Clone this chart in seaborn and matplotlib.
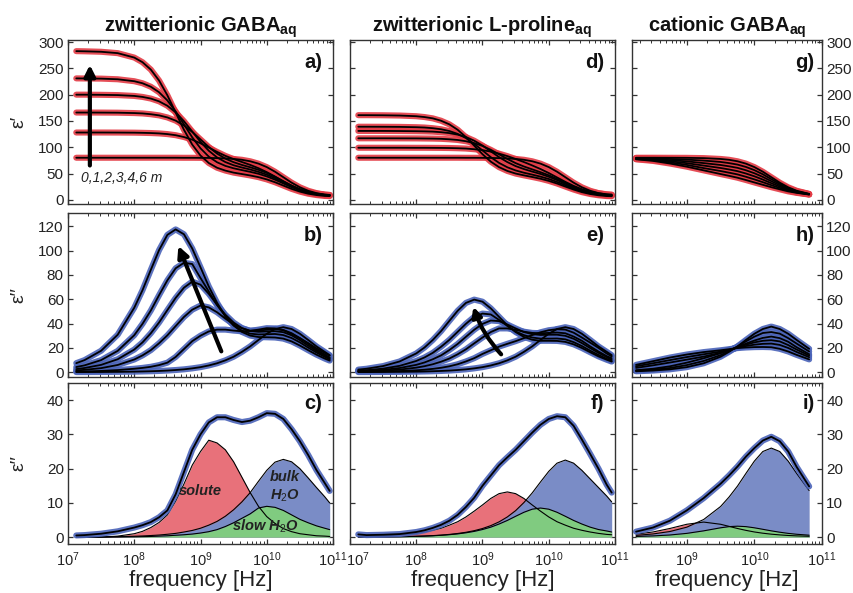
import numpy as np
import pandas as pd
import seaborn as sns
import matplotlib.pyplot as plt
from matplotlib.ticker import LogLocator, NullFormatter
from matplotlib.transforms import ScaledTranslation

sns.set_theme(style="ticks")
plt.rcParams['font.family'] = ['Liberation Sans', 'DejaVu Sans']
plt.rcParams['mathtext.fontset'] = 'custom'
plt.rcParams['mathtext.rm'] = 'Liberation Sans'
plt.rcParams['mathtext.it'] = 'Liberation Sans:italic'
plt.rcParams['mathtext.bf'] = 'Liberation Sans:bold'

# frequency grids, log10(f / Hz)
G = [7.125, 7.25, 7.5, 7.75, 8.0, 8.125, 8.25, 8.375, 8.5, 8.625, 8.75, 8.875, 9.0, 9.125,
     9.25, 9.375, 9.5, 9.625, 9.75, 9.875, 10.0, 10.125, 10.25, 10.375, 10.5, 10.625, 10.75,
     10.875, 10.95]
R_LOGF = [8.25, 8.5, 8.75, 9.0, 9.25, 9.5, 9.625, 9.75, 9.875, 10.0, 10.125, 10.25, 10.375,
          10.5, 10.625, 10.81]

# zwitterionic GABA, eps' (a)   0,1,2,3,4,6 m
gaba_re_0 = [80, 80, 80, 80, 80, 80, 80, 80, 80, 80, 79.9, 79.9, 79.8, 79.6, 79.3, 78.7, 77.7, 76.1,
             73.3, 68.8, 62.2, 53.4, 43.0, 32.6, 23.8, 17.2, 12.7, 9.9, 9.0]
gaba_re_1 = [128, 128, 128, 127.9, 127.7, 127.4, 127.0, 126.3, 125.0, 122.9, 119.4, 114.4, 107.5, 99.4,
             91.1, 83.6, 77.4, 71.9, 66.4, 60.1, 52.7, 44.2, 35.1, 26.8, 20.0, 15.1, 11.9, 9.8, 9.3]
gaba_re_2 = [166, 166, 165.9, 165.7, 165.0, 164.3, 162.8, 160.6, 156.7, 150.6, 141.4, 129.2, 114.8, 100.4,
             87.9, 78.4, 71.5, 66.3, 61.9, 57.0, 51.1, 43.7, 35.3, 27.1, 20.0, 14.8, 11.3, 9.1, 8.5]
gaba_re_3 = [200, 200, 199.7, 199.2, 197.6, 195.7, 192.6, 187.3, 178.9, 166.4, 149.5, 129.9, 110.2, 93.3,
             80.6, 71.8, 65.7, 61.4, 57.6, 53.2, 47.8, 41.0, 33.3, 25.5, 19.1, 14.2, 10.9, 8.9, 8.3]
gaba_re_4 = [231, 230.8, 230.5, 229.3, 225.6, 221.7, 215.1, 204.6, 189.0, 168.0, 143.5, 118.9, 97.9, 82.1,
             71.4, 64.5, 59.9, 56.5, 53.2, 49.5, 44.5, 38.3, 31.2, 24.0, 18.0, 13.6, 10.6, 8.7, 8.1]
gaba_re_6 = [282.8, 282.5, 281.6, 279.0, 270.6, 261.7, 247.7, 226.8, 198.8, 166.0, 133.2, 105.1, 84.2, 70.0,
             61.0, 55.6, 51.7, 49.0, 46.3, 43.1, 38.8, 33.4, 27.1, 20.8, 15.6, 11.6, 9.0, 7.3, 7.0]

# zwitterionic GABA, eps'' (b)
gaba_im_0 = [0.06, 0.07, 0.13, 0.24, 0.41, 0.56, 0.74, 0.98, 1.3, 1.75, 2.3, 3.1, 4.1, 5.5, 7.3, 9.7,
             12.7, 16.7, 21.2, 26.5, 31.6, 35.5, 37.0, 35.5, 31.6, 26.5, 21.2, 16.7, 14.0]
gaba_im_1 = [0.5, 0.6, 1.0, 1.7, 2.8, 3.5, 4.4, 5.8, 7.8, 12.5, 19.0, 25.5, 30.0, 33.5, 35.0, 35.0,
             34.2, 33.6, 34.0, 35.0, 36.2, 36.0, 34.5, 31.5, 28.0, 24.0, 19.6, 15.8, 13.5]
gaba_im_2 = [1.4, 1.9, 3.3, 5.9, 10.4, 13.8, 18.1, 23.8, 30.3, 37.9, 45.4, 51.4, 54.8, 53.3, 49.3, 44.1,
             39.3, 36.1, 34.1, 34.2, 34.9, 35.4, 34.7, 32.1, 28.0, 23.2, 18.4, 14.5, 12.0]
gaba_im_3 = [2.5, 3.4, 6.0, 10.6, 18.6, 24.5, 32.0, 40.9, 51.1, 61.1, 69.5, 74.5, 72.0, 64.5, 55.5, 47.3,
             40.8, 36.3, 33.8, 33.2, 33.5, 33.7, 32.9, 30.3, 26.4, 21.8, 17.4, 13.6, 11.3]
gaba_im_4 = [4.2, 5.6, 9.9, 17.5, 30.4, 39.8, 50.7, 63.4, 75.6, 85.5, 90.0, 89.0, 77.5, 66.4, 55.2, 46.0,
             38.7, 34.2, 31.7, 31.0, 31.2, 31.4, 30.5, 28.1, 24.5, 20.2, 16.2, 12.6, 10.5]
gaba_im_6 = [7.4, 9.9, 17.6, 30.8, 53.0, 67.5, 84.2, 100.5, 113.0, 117.5, 113.5, 101.8, 86.3, 70.5, 57.1,
             46.0, 38.3, 33.1, 30.1, 28.9, 28.7, 28.5, 27.6, 25.3, 21.9, 18.1, 14.4, 11.2, 9.5]

# GABA 1 m split into solute / bulk water / slow water (c)
c_total = gaba_im_1
c_solute = [0.0, 0.0, 0.0, 0.3, 1.0, 1.7, 2.8, 4.3, 6.5, 10.5, 15.5, 21.0, 25.0, 28.3, 27.5, 25.5,
            22.0, 17.5, 13.0, 9.0, 6.0, 4.0, 2.5, 1.6, 1.0, 0.7, 0.4, 0.3, 0.2]
c_slow = [0.0, 0.0, 0.0, 0.05, 0.1, 0.15, 0.2, 0.3, 0.4, 0.55, 0.7, 0.9, 1.2, 1.6, 2.2, 3.1,
          4.2, 5.5, 6.8, 8.5, 9.0, 8.7, 7.8, 6.5, 5.2, 4.2, 3.3, 2.6, 2.2]
c_bulk = [0.04, 0.05, 0.08, 0.15, 0.26, 0.35, 0.47, 0.62, 0.84, 1.1, 1.5, 1.95, 2.6, 3.5, 4.6, 6.1,
          8.0, 10.3, 13.0, 16.3, 19.5, 21.9, 22.7, 22.0, 20.0, 17.3, 14.5, 11.8, 10.0]

# zwitterionic L-proline, eps' (d)
pro_re_1 = [99, 99, 99, 99, 98.9, 98.9, 98.8, 98.7, 98.5, 98.1, 97.5, 96.2, 94.5, 91.6, 87.8, 83.1,
            77.6, 71.8, 65.4, 58.6, 50.9, 42.5, 34.2, 26.5, 20.2, 15.6, 12.5, 10.6, 10.0]
pro_re_2 = [117, 117, 117, 116.9, 116.8, 116.6, 116.4, 116.0, 115.1, 113.8, 111.4, 107.8, 102.4, 95.1,
            86.5, 77.7, 69.8, 63.4, 57.9, 52.5, 46.7, 39.7, 32.1, 24.7, 18.4, 13.8, 10.6, 8.7, 8.3]
pro_re_3 = [131, 131, 131, 130.8, 130.5, 130.2, 129.7, 128.6, 126.9, 124.0, 119.4, 112.4, 103.2, 92.2,
            81.2, 71.7, 64.1, 58.5, 53.7, 49.2, 43.8, 37.5, 30.4, 23.5, 17.6, 13.3, 10.4, 8.5, 8.2]
pro_re_4 = [139, 139, 138.9, 138.7, 138.1, 137.5, 136.2, 134.2, 130.8, 125.4, 117.4, 106.5, 93.9, 81.1,
            70.2, 61.9, 55.9, 51.5, 47.9, 44.1, 39.6, 34.0, 27.8, 21.7, 16.4, 12.5, 9.9, 8.3, 7.9]
pro_re_6 = [161, 161, 160.8, 160.3, 159.0, 157.4, 154.9, 150.4, 143.5, 133.2, 119.2, 102.9, 86.7, 72.6,
            62.1, 54.9, 49.9, 46.5, 43.4, 40.1, 36.0, 31.0, 25.2, 19.5, 14.6, 11.0, 8.6, 7.1, 6.8]

# zwitterionic L-proline, eps'' (e)
pro_im_1 = [0.8, 0.6, 0.7, 0.9, 1.5, 2.0, 2.7, 3.6, 4.8, 6.5, 8.8, 11.5, 15.0, 18.0, 21.0, 23.3,
            25.5, 28.0, 30.5, 32.8, 34.5, 35.3, 35.0, 32.5, 28.5, 24.3, 20.0, 15.3, 13.0]
pro_im_2 = [0.5, 0.7, 1.2, 2.1, 3.7, 4.9, 6.5, 8.6, 11.2, 14.7, 18.8, 23.7, 28.5, 33.0, 36.0, 36.0,
            34.8, 33.3, 32.3, 32.0, 32.3, 32.6, 32.0, 29.3, 25.8, 21.2, 17.0, 13.2, 11.5]
pro_im_3 = [0.8, 1.1, 1.9, 3.4, 6.0, 8.0, 10.6, 13.8, 18.2, 23.2, 29.1, 34.9, 39.7, 42.5, 42.0, 39.2,
            36.0, 33.0, 31.3, 30.6, 30.8, 30.8, 29.9, 27.5, 23.9, 19.8, 15.9, 12.4, 10.2]
pro_im_4 = [1.2, 1.6, 2.9, 5.2, 9.2, 12.1, 15.9, 20.9, 26.6, 33.2, 39.8, 45.5, 48.2, 47.5, 43.0, 38.0,
            33.5, 30.5, 28.5, 27.6, 27.6, 27.7, 27.0, 24.7, 21.5, 17.7, 14.2, 11.0, 9.2]
pro_im_6 = [2.1, 2.8, 5.0, 8.8, 15.4, 20.3, 26.5, 33.8, 42.2, 50.5, 57.0, 59.7, 58.0, 52.5, 45.5, 38.5,
            33.0, 29.0, 26.7, 25.8, 25.8, 25.7, 24.9, 22.9, 19.9, 16.4, 13.0, 10.2, 8.7]

# L-proline 1 m split (f)
f_total = pro_im_1
f_solute = [0.15, 0.2, 0.35, 0.63, 1.1, 1.5, 2.0, 2.6, 3.5, 4.5, 5.9, 7.6, 9.4, 11.3, 12.7, 13.2,
            12.7, 11.3, 9.4, 7.6, 5.9, 4.5, 3.5, 2.6, 2.0, 1.5, 1.1, 0.8, 0.7]
f_slow = [0.03, 0.04, 0.07, 0.13, 0.23, 0.3, 0.4, 0.54, 0.72, 0.95, 1.27, 1.68, 2.23, 2.92, 3.83, 4.88,
          6.09, 7.26, 8.16, 8.5, 8.16, 7.26, 6.09, 4.88, 3.83, 2.92, 2.23, 1.8, 1.5]
f_bulk = [0.03, 0.05, 0.08, 0.14, 0.25, 0.34, 0.45, 0.6, 0.8, 1.07, 1.42, 1.89, 2.52, 3.36, 4.46, 5.9,
          7.74, 10.1, 12.9, 16.1, 19.2, 21.6, 22.5, 21.6, 19.5, 17.0, 14.5, 12.0, 10.3]

# cationic GABA, eps' (g)
cat_re_0 = [80.0, 80.0, 79.9, 79.8, 79.3, 77.7, 76.1, 73.3, 68.8, 62.2, 53.4, 43.0, 32.6, 23.8, 17.2, 11.2]
cat_re_1 = [79.4, 78.8, 77.7, 76.4, 74.6, 72.0, 69.8, 67.0, 62.5, 56.4, 48.5, 39.2, 30.3, 22.2, 16.3, 11.0]
cat_re_2 = [78.8, 77.6, 75.5, 73.1, 69.8, 66.2, 63.7, 60.8, 56.2, 50.5, 43.5, 35.4, 27.8, 20.7, 15.5, 10.7]
cat_re_3 = [78.2, 76.4, 73.4, 69.7, 65.1, 60.5, 57.7, 54.5, 50.0, 44.7, 38.5, 31.6, 25.2, 19.1, 14.7, 10.5]
cat_re_4 = [77.6, 75.2, 71.2, 66.4, 60.3, 54.7, 51.6, 48.3, 43.8, 38.8, 33.5, 27.8, 22.6, 17.6, 13.9, 10.2]
cat_re_5 = [77.0, 74.0, 69.0, 63.0, 56.0, 49.0, 45.6, 42.0, 37.6, 33.0, 28.5, 24.0, 20.0, 16.0, 13.2, 10.0]

# cationic GABA, eps'' (h)
cat_im_0 = [0.7, 1.3, 2.3, 4.1, 7.3, 12.7, 16.7, 21.2, 26.5, 31.6, 35.5, 37.5, 35.5, 31.6, 26.5, 19.2]
cat_im_1 = [1.2, 2.0, 3.4, 5.8, 9.2, 14.0, 17.3, 21.0, 25.3, 29.2, 32.2, 33.0, 31.7, 28.0, 23.5, 17.0]
cat_im_2 = [1.6, 2.8, 4.8, 7.8, 11.4, 15.6, 18.0, 20.6, 23.5, 26.0, 28.2, 29.3, 28.0, 25.0, 20.5, 14.8]
cat_im_3 = [3.5, 5.6, 7.9, 10.3, 12.8, 15.9, 18.0, 20.4, 22.6, 24.5, 25.8, 26.3, 25.3, 22.3, 18.6, 13.6]
cat_im_4 = [4.8, 7.3, 9.9, 12.4, 14.7, 16.9, 18.4, 20.1, 21.5, 22.6, 23.3, 23.5, 22.4, 19.9, 16.6, 12.3]
cat_im_5 = [6.0, 9.0, 12.0, 14.5, 16.5, 18.0, 18.9, 19.8, 20.3, 20.6, 20.7, 20.5, 19.2, 17.0, 14.2, 10.5]

# cationic GABA split (i)
i_total = cat_im_2
i_solute = [0.87, 1.51, 2.53, 3.76, 4.4, 3.76, 3.15, 2.53, 1.98, 1.51, 1.15, 0.87, 0.66, 0.49, 0.37, 0.25]
i_slow = [0.2, 0.36, 0.63, 1.1, 1.84, 2.73, 3.07, 3.2, 3.07, 2.73, 2.29, 1.84, 1.44, 1.1, 0.84, 0.57]
i_bulk = [0.52, 0.93, 1.64, 2.91, 5.15, 8.94, 11.7, 14.9, 18.6, 22.2, 25.0, 26.0, 25.0, 22.2, 18.6, 13.6]

RED_DOT = '#e33b45'
BLUE_DOT = '#4a63b8'
RED_FILL = '#e8717a'
BLUE_FILL = '#7a8cc6'
GREEN_FILL = '#80cb80'


def long_df(logf, curves):
    rows = []
    for k, vals in enumerate(curves):
        for lf, v in zip(logf, vals):
            rows.append((10 ** lf, v, k))
    return pd.DataFrame(rows, columns=['freq', 'eps', 'curve'])


def draw_curves(ax, logf, curves, halo):
    df = long_df(logf, curves)
    sns.lineplot(data=df, x='freq', y='eps', units='curve', estimator=None, color=halo,
                 lw=4.4, alpha=0.9, ax=ax, sort=False, solid_joinstyle='round')
    sns.lineplot(data=df, x='freq', y='eps', units='curve', estimator=None, color='black',
                 lw=1.3, ax=ax, sort=False, solid_joinstyle='round')


def draw_parts(ax, logf, solute, bulk, slow, total):
    fr = [10 ** v for v in logf]
    for vals, col in [(solute, RED_FILL), (bulk, BLUE_FILL), (slow, GREEN_FILL)]:
        ax.fill_between(fr, 0, vals, color=col, lw=0)
        ax.plot(fr, vals, color='black', lw=0.8)
    draw_curves(ax, logf, [total], BLUE_DOT)


def style(ax, xlim, ylim, yticks, xticks, side, bottom):
    ax.set_xscale('log')
    ax.set_xlim(*xlim)
    ax.set_ylim(*ylim)
    ax.set_yticks(yticks)
    ax.set_xticks(xticks)
    ax.xaxis.set_minor_locator(LogLocator(base=10, subs=np.arange(2, 10), numticks=20))
    ax.xaxis.set_minor_formatter(NullFormatter())
    ax.tick_params(which='both', direction='in', top=True, right=True,
                   colors='#333333', labelcolor='#222222')
    ax.tick_params(axis='y', labelsize=11, pad=3)
    ax.tick_params(axis='x', labelsize=10.5, pad=4.5)
    ax.tick_params(which='major', length=3.5, width=0.9)
    ax.tick_params(which='minor', length=2, width=0.7)
    ax.tick_params(labelbottom=bottom, labelleft=(side == 'left'),
                   labelright=(side == 'right'))
    for sp in ax.spines.values():
        sp.set_color('#333333')
        sp.set_linewidth(1.0)
    ax.set_xlabel('')
    ax.set_ylabel('')
    if bottom:
        ax.set_xlabel('frequency [Hz]', fontsize=16, color='#222222', labelpad=1)


W, H = 854, 593
cols = [(68, 333), (350, 615), (632, 822)]
rows_px = [(40, 204), (213, 377), (383, 544)]

fig = plt.figure(figsize=(W / 100, H / 100), dpi=100)
axes = {}
for r, (yt, yb) in enumerate(rows_px):
    for c, (xl, xr) in enumerate(cols):
        axes[(r, c)] = fig.add_axes([xl / W, 1 - yb / H, (xr - xl) / W, (yb - yt) / H])
        axes[(r, c)].set_xscale('log')

full_x = (1e7, 1e11)
right_x = (10 ** 8.19, 1e11)
ylims = [(-8, 304), (-4, 131), (-2, 45)]
yticks = [list(range(0, 301, 50)), list(range(0, 121, 20)), list(range(0, 41, 10))]

draw_curves(axes[(0, 0)], G, [gaba_re_0, gaba_re_1, gaba_re_2, gaba_re_3, gaba_re_4, gaba_re_6], RED_DOT)
draw_curves(axes[(1, 0)], G, [gaba_im_0, gaba_im_1, gaba_im_2, gaba_im_3, gaba_im_4, gaba_im_6], BLUE_DOT)
draw_parts(axes[(2, 0)], G, c_solute, c_bulk, c_slow, c_total)

draw_curves(axes[(0, 1)], G, [gaba_re_0, pro_re_1, pro_re_2, pro_re_3, pro_re_4, pro_re_6], RED_DOT)
draw_curves(axes[(1, 1)], G, [gaba_im_0, pro_im_1, pro_im_2, pro_im_3, pro_im_4, pro_im_6], BLUE_DOT)
draw_parts(axes[(2, 1)], G, f_solute, f_bulk, f_slow, f_total)

draw_curves(axes[(0, 2)], R_LOGF, [cat_re_0, cat_re_1, cat_re_2, cat_re_3, cat_re_4, cat_re_5], RED_DOT)
draw_curves(axes[(1, 2)], R_LOGF, [cat_im_0, cat_im_1, cat_im_2, cat_im_3, cat_im_4, cat_im_5], BLUE_DOT)
draw_parts(axes[(2, 2)], R_LOGF, i_solute, i_bulk, i_slow, i_total)

for r in range(3):
    for c in range(3):
        xl = right_x if c == 2 else full_x
        xt = [1e9, 1e10, 1e11] if c == 2 else [1e7, 1e8, 1e9, 1e10, 1e11]
        side = ['left', 'none', 'right'][c]
        style(axes[(r, c)], xl, ylims[r], yticks[r], xt, side, r == 2)

# the first frequency label of the middle column sits a little to the right
lab = axes[(2, 1)].get_xticklabels()[0]
lab.set_transform(lab.get_transform() + ScaledTranslation(0.08, 0, fig.dpi_scale_trans))

titles = [r'zwitterionic GABA$_{\mathbf{aq}}$', r'zwitterionic L-proline$_{\mathbf{aq}}$',
          r'cationic GABA$_{\mathbf{aq}}$']
for c in range(3):
    axes[(0, c)].set_title(titles[c], fontsize=14.5, fontweight='bold', pad=6, color='#111111')

ylab_x = (27 - 68) / 265
for r, txt in enumerate(['ε′', 'ε′′', 'ε′′']):
    axes[(r, 0)].set_ylabel(txt, fontsize=14)
    axes[(r, 0)].yaxis.set_label_coords(ylab_x, 0.5)

labels = ['a)', 'b)', 'c)', 'd)', 'e)', 'f)', 'g)', 'h)', 'i)']
for c in range(3):
    for r in range(3):
        yf = 0.875 if r == 2 else 0.86
        axes[(r, c)].text(0.96, yf, labels[c * 3 + r], transform=axes[(r, c)].transAxes,
                          ha='right', va='center', fontsize=14.5, fontweight='bold', color='#111111')

# arrows and annotations
ax = axes[(0, 0)]
ax.annotate('', xy=(10 ** 7.33, 262), xytext=(10 ** 7.33, 60),
            arrowprops=dict(arrowstyle='-|>', lw=3, color='black', mutation_scale=16))
ax.text(10 ** 7.2, 42, '0,1,2,3,4,6 m', fontsize=10, style='italic', ha='left', va='center',
        color='#222222')

ax = axes[(1, 0)]
ax.annotate('', xy=(10 ** 8.65, 106), xytext=(10 ** 9.33, 15),
            arrowprops=dict(arrowstyle='-|>', lw=3, color='black', mutation_scale=16))

ax = axes[(1, 1)]
ax.annotate('', xy=(10 ** 8.85, 56), xytext=(10 ** 9.31, 13),
            arrowprops=dict(arrowstyle='-|>', lw=3, color='black', mutation_scale=14,
                            connectionstyle='arc3,rad=-0.12'))

ax = axes[(2, 0)]
kw = dict(fontsize=10.5, fontweight='bold', style='italic', color='#222222', ha='center', va='center')
ax.text(10 ** 9.0, 13.5, 'solute', **kw)
ax.text(10 ** 10.27, 17.5, 'bulk', **kw)
ax.text(10 ** 10.27, 12.0, r'H$_2$O', **kw)
ax.text(10 ** 9.97, 3.3, r'slow H$_2$O', **kw)

fig.savefig('out.png', dpi=100)
